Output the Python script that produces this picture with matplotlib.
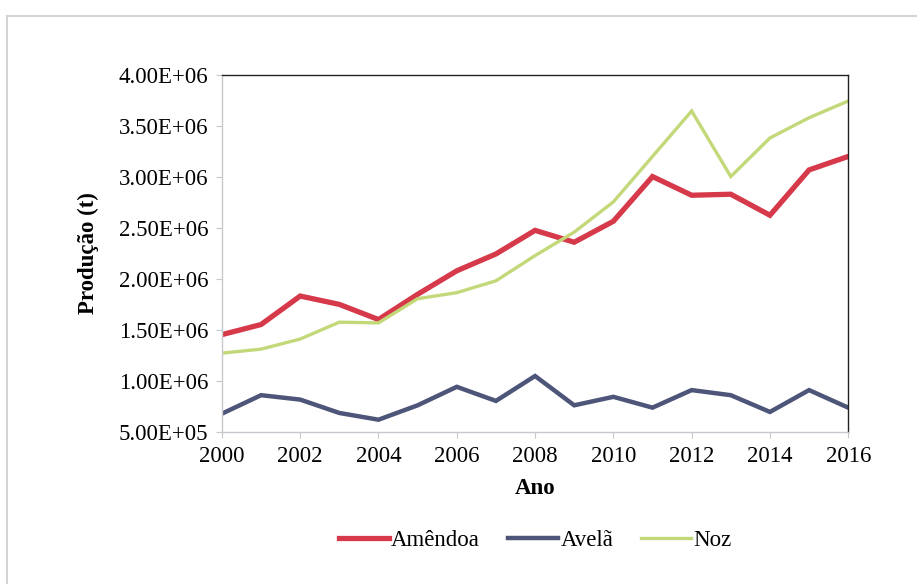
import matplotlib
matplotlib.use("Agg")
import matplotlib.pyplot as plt
from matplotlib.lines import Line2D

plt.rcParams['font.family'] = ['Liberation Serif', 'DejaVu Serif']

# dados (produção, t)
anos = list(range(2000, 2017))
amendoa = [1.455e6, 1.554e6, 1.833e6, 1.751e6, 1.603e6, 1.850e6, 2.080e6, 2.245e6, 2.476e6,
           2.360e6, 2.565e6, 3.003e6, 2.820e6, 2.830e6, 2.624e6, 3.068e6, 3.200e6]
avela = [0.681e6, 0.862e6, 0.819e6, 0.688e6, 0.622e6, 0.763e6, 0.944e6, 0.806e6, 1.050e6,
         0.763e6, 0.846e6, 0.740e6, 0.912e6, 0.862e6, 0.698e6, 0.912e6, 0.740e6]
noz = [1.274e6, 1.313e6, 1.412e6, 1.577e6, 1.570e6, 1.807e6, 1.866e6, 1.982e6, 2.229e6,
       2.459e6, 2.755e6, 3.200e6, 3.645e6, 3.003e6, 3.381e6, 3.579e6, 3.743e6]

y_ticks = [0.5e6, 1.0e6, 1.5e6, 2.0e6, 2.5e6, 3.0e6, 3.5e6, 4.0e6]
y_labels = ["5.00E+05", "1.00E+06", "1.50E+06", "2.00E+06", "2.50E+06",
            "3.00E+06", "3.50E+06", "4.00E+06"]
x_ticks = list(range(2000, 2017, 2))

fs = 16.5

fig = plt.figure(figsize=(9.17, 5.84), dpi=100)
ax = fig.add_axes([0.242, 0.260, 0.683, 0.612])

ax.plot(anos, amendoa, color='#d6394a', lw=3.8, label='Amêndoa', solid_joinstyle='miter')
ax.plot(anos, avela, color='#4d5578', lw=3.2, label='Avelã', solid_joinstyle='miter')
ax.plot(anos, noz, color='#c3d979', lw=2.4, label='Noz', solid_joinstyle='miter')

ax.set_xlim(2000, 2016)
ax.set_ylim(0.5e6, 4.0e6)
ax.set_xticks(x_ticks)
ax.set_xticklabels([str(a) for a in x_ticks], fontsize=fs)
ax.set_yticks(y_ticks)
ax.set_yticklabels(y_labels, fontsize=fs)
ax.tick_params(axis='both', direction='out', length=4, color='#c8c8c8', pad=6)

for s in ['top', 'right']:
    ax.spines[s].set_color('#222222')
    ax.spines[s].set_linewidth(1.0)
for s in ['left', 'bottom']:
    ax.spines[s].set_color('#c8c8d0')
    ax.spines[s].set_linewidth(1.0)

ax.set_xlabel('Ano', fontsize=fs, fontweight='bold', labelpad=8)
ax.set_ylabel('Produção (t)', fontsize=fs, fontweight='bold', labelpad=14)

ax.legend(loc='upper center', bbox_to_anchor=(0.5, -0.215), ncol=3, frameon=False,
          fontsize=fs, handlelength=2.2, handletextpad=0.1, columnspacing=1.2)

# moldura cinzenta do gráfico
fig.add_artist(Line2D([7 / 917, 7 / 917], [0, 1 - 16 / 584], transform=fig.transFigure,
                      color='#d4d4d4', lw=1.5))
fig.add_artist(Line2D([7 / 917, 1], [1 - 16 / 584, 1 - 16 / 584], transform=fig.transFigure,
                      color='#d4d4d4', lw=1.5))

fig.savefig('out.png', dpi=100, facecolor='white')
